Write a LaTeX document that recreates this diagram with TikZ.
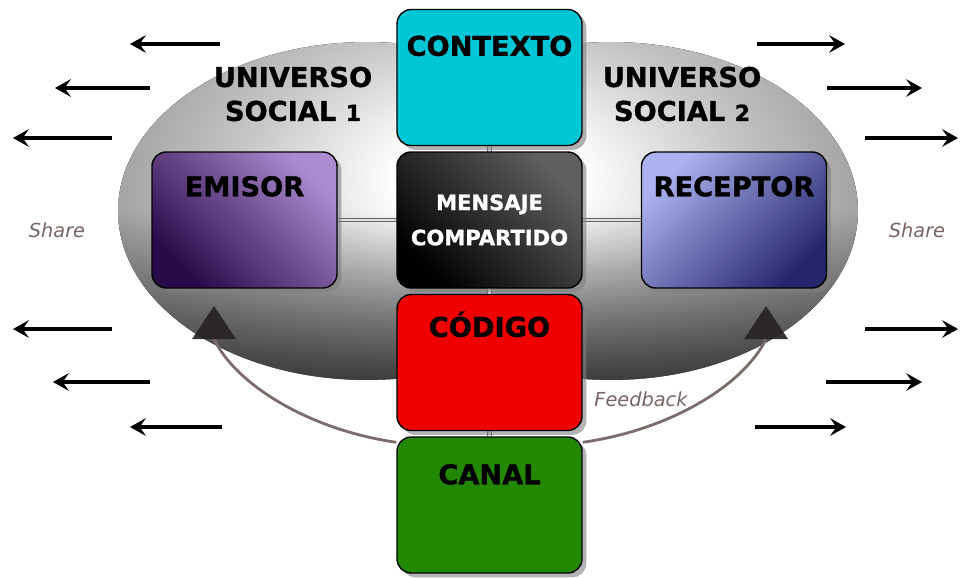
\documentclass[tikz,border=0pt]{standalone}
\usepackage{fontspec}
\setmainfont{DejaVu Sans}
\newfontfamily\gruesa{DejaVu Sans}[FakeBold=1.2]
\usepackage{tikz}
\usetikzlibrary{arrows.meta,shadows,fadings}

\definecolor{cielo}{RGB}{0,198,214}
\definecolor{rojo}{RGB}{240,0,0}
\definecolor{verde}{RGB}{34,136,0}
\definecolor{emioscuro}{RGB}{40,10,72}
\definecolor{emiclaro}{RGB}{172,138,208}
\definecolor{recclaro}{RGB}{172,178,240}
\definecolor{recoscuro}{RGB}{38,38,108}
\definecolor{mensclaro}{RGB}{95,95,95}
\definecolor{retrocol}{RGB}{125,108,108}
\definecolor{punta}{RGB}{40,35,35}
\definecolor{sharecol}{RGB}{120,100,100}

\pgfdeclarelayer{fondo}
\pgfdeclarelayer{enlaces}
\pgfsetlayers{fondo,enlaces,main}

\pgfdeclareradialshading{univizq}{\pgfpoint{12bp}{5bp}}{color(0bp)=(white); color(8bp)=(white); color(22bp)=(black!22); color(38bp)=(black!42); color(50bp)=(black!50); color(100bp)=(black!58)}
\pgfdeclareradialshading{univder}{\pgfpoint{-12bp}{5bp}}{color(0bp)=(white); color(8bp)=(white); color(22bp)=(black!22); color(38bp)=(black!42); color(50bp)=(black!50); color(100bp)=(black!58)}
\tikzfading[name=abajo, top color=transparent!100, bottom color=transparent!0, middle color=transparent!100]

\tikzset{
	caja/.style={draw=black, line width=0.8pt, rounded corners=8pt, minimum width=3.7cm, minimum height=2.72cm, inner sep=0pt, drop shadow={shadow xshift=2.5pt, shadow yshift=-2.5pt, opacity=0.6}},
	titulo/.style={anchor=base, font=\gruesa\bfseries\fontsize{15.5}{19.3}\selectfont},
	flecha/.style={line width=1.8pt, -{Stealth[length=9pt,width=10pt,inset=3.5pt]}},
	enlace/.style={draw=black!60, double=gray!25, double distance=1.5pt, line width=0.5pt},
	retro/.style={draw=retrocol, line width=1.6pt},
	punta/.style={fill=punta, fill opacity=0.92},
	compartir/.style={font=\itshape\fontsize{11}{13}\selectfont, text=sharecol}
}

\begin{document}
\begin{tikzpicture}[x=0.02cm, y=-0.02cm]
	\useasboundingbox (0,0) rectangle (960,578);
	\begin{pgfonlayer}{fondo}
		\begin{scope}
			\clip (0,0) rectangle (489.5,578);
			\fill[shading=univizq] (367,211) ellipse [x radius=4.98cm, y radius=3.38cm];
			\fill[black, fill opacity=0.65, path fading=abajo] (367,211) ellipse [x radius=4.98cm, y radius=3.38cm];
		\end{scope}
		\begin{scope}
			\clip (489.5,0) rectangle (960,578);
			\fill[shading=univder] (611,211) ellipse [x radius=4.94cm, y radius=3.38cm];
			\fill[black, fill opacity=0.65, path fading=abajo] (611,211) ellipse [x radius=4.94cm, y radius=3.38cm];
		\end{scope}
	\end{pgfonlayer}

	\node[caja, fill=cielo] (contexto) at (489.5,77.5) {};
	\node[caja, top color=mensclaro, bottom color=black, shading angle=-45, text=white, align=center, font=\gruesa\bfseries\fontsize{12}{20}\selectfont] (mensaje) at (489.5,220) {MENSAJE\\COMPARTIDO};
	\node[caja, fill=rojo] (codigo) at (489.5,362.5) {};
	\node[caja, fill=verde] (canal) at (489.5,505) {};
	\node[caja, top color=emiclaro, bottom color=emioscuro, shading angle=-45] (emisor) at (244.5,220) {};
	\node[caja, top color=recclaro, bottom color=recoscuro, shading angle=45] (receptor) at (734,220) {};

	\node[titulo] (tcontexto) at ([yshift=-0.94cm]contexto.north) {CONTEXTO};
	\node[titulo] (tcodigo) at ([yshift=-0.86cm]codigo.north) {CÓDIGO};
	\node[titulo] (tcanal) at ([yshift=-0.96cm]canal.north) {CANAL};
	\node[titulo] (temisor) at ([yshift=-0.9cm]emisor.north) {EMISOR};
	\node[titulo] (treceptor) at ([yshift=-0.9cm]receptor.north) {RECEPTOR};

	\node[titulo, anchor=center, align=center] (univ1) at (293,94) {UNIVERSO\\SOCIAL {\fontsize{12.5}{12}\selectfont 1}};
	\node[titulo, anchor=center, align=center] (univ2) at (682,94) {UNIVERSO\\SOCIAL {\fontsize{12.5}{12}\selectfont 2}};

	\node[compartir] (share1) at (57,230) {Share};
	\node[compartir] (share2) at (917,230) {Share};
	\node[compartir] (feedback) at (641,399) {Feedback};

	\coordinate (fbizq) at (214,339);
	\coordinate (fbder) at (766,339);
	\begin{pgfonlayer}{enlaces}
		\draw[enlace] (emisor) -- (receptor);
		\draw[enlace] (contexto) -- (canal);
		\draw[retro] ([yshift=-0.12cm]canal.north west) .. controls (310,430) and (236,385) .. (fbizq);
		\draw[retro] ([yshift=-0.12cm]canal.north east) .. controls (670,430) and (744,385) .. (fbder);
		\fill[punta] (214,306) -- (236,339) -- (192,339) -- cycle;
		\fill[punta] (766,306) -- (788,339) -- (744,339) -- cycle;
	\end{pgfonlayer}

	\foreach \xa/\xb/\y in {220/130/44, 150/55/88, 112/13/138, 112/13/329, 150/53/382, 222/130/427,
		757/845/44, 827/922/88, 865/958/138, 865/958/329, 826/922/382, 755/846/427}
		\draw[flecha] (\xa,\y) -- (\xb,\y);
\end{tikzpicture}
\end{document}
